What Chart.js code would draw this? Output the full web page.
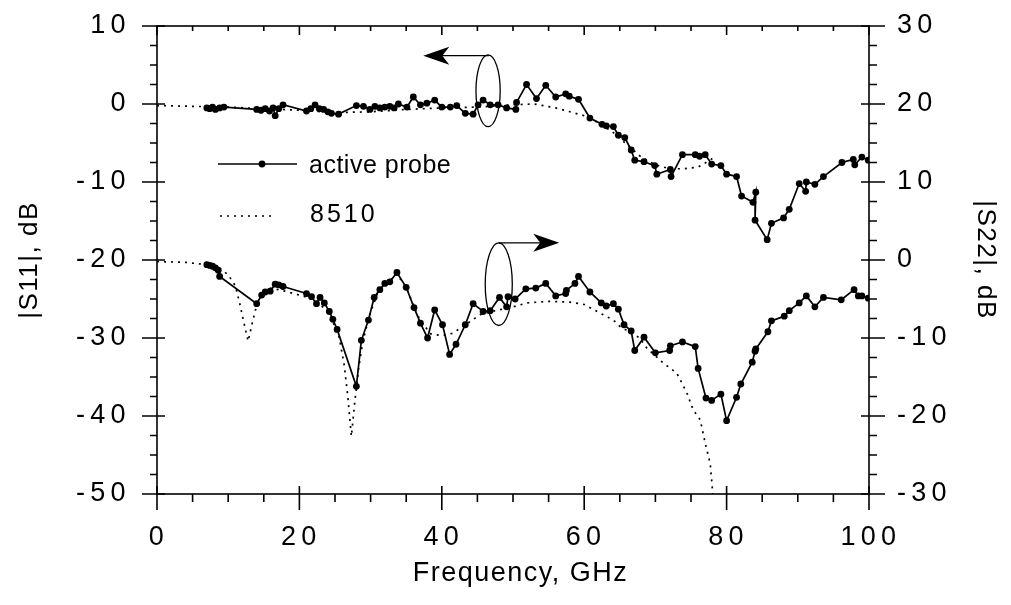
<!DOCTYPE html>
<html>
<head>
<meta charset="utf-8">
<script src="https://cdn.jsdelivr.net/npm/chart.js@4"></script>
<style>
  body { margin: 0; background: #fff; }
  canvas { display: block; }
</style>
</head>
<body>
<canvas id="myChart" width="1011" height="605"></canvas>
<script>
// |S11| measured with the active probe (left axis)
const s11ProbeFreq = [7.0, 7.4, 7.8, 8.2, 8.8, 9.4, 14.0, 14.6, 15.2, 15.8, 16.3, 16.6, 17.1, 17.7,
    21.0, 21.6, 22.2, 22.8, 23.4, 24.0, 24.5, 25.5, 28.0, 29.0, 29.9, 30.6, 31.3, 32.0, 32.7, 33.3,
    33.9, 35.1, 36.0, 37.0, 37.9, 39.0, 40.0, 41.2, 42.1, 43.3, 44.4, 45.1, 45.8, 46.8, 47.9, 49.1,
    50.4, 50.5, 51.9, 53.3, 54.6, 56.0, 57.4, 57.9, 59.2, 60.8, 62.5, 63.1, 64.1, 64.8, 65.7, 66.6,
    67.1, 68.4, 69.9, 70.2, 72.1, 72.2, 73.8, 75.6, 76.2, 77.0, 77.9, 79.2, 80.0, 81.4, 82.1, 83.7,
    84.1, 84.0, 85.7, 86.3, 88.0, 88.8, 90.2, 91.1, 91.2, 92.4, 93.6, 96.2, 97.8, 98.0, 99.0, 99.9];
const s11ProbeDb = [-0.5, -0.6, -0.4, -0.7, -0.5, -0.4, -0.7, -0.8, -0.6, -0.9, -0.5, -1.5, -0.6, -0.1,
    -0.9, -0.6, -0.1, -0.6, -0.7, -1.0, -1.2, -1.3, -0.2, -0.3, -0.7, -0.3, -0.5, -0.4, -0.3, -0.5,
    0.0, -0.4, 0.9, -0.1, 0.1, 0.5, -0.4, -0.4, -0.2, -1.2, -1.3, -0.1, 0.5, -0.1, -0.1, -0.5,
    -0.7, 0.2, 2.5, 0.7, 2.4, 0.9, 1.3, 1.0, 0.6, -1.8, -2.6, -2.8, -2.9, -4.0, -4.3, -5.9,
    -7.2, -7.4, -7.9, -9.0, -8.4, -9.3, -6.5, -6.5, -6.7, -6.5, -7.7, -7.9, -9.0, -9.3, -11.8, -12.6,
    -11.3, -14.9, -17.4, -15.3, -14.6, -13.5, -10.2, -11.2, -10.0, -10.3, -9.3, -7.5, -7.1, -7.8, -6.8, -7.2];

// |S22| measured with the active probe (right axis)
const s22ProbeFreq = [7.0, 7.4, 7.8, 8.2, 8.6, 8.8, 14.0, 14.7, 15.2, 15.9, 16.6, 17.1, 17.7,
    21.0, 21.7, 22.4, 22.9, 23.5, 24.2, 24.7, 25.3, 28.0, 28.7, 29.7, 30.5, 31.3, 32.0, 32.7, 33.7,
    35.0, 36.1, 37.0, 38.0, 39.0, 40.1, 41.1, 42.0, 43.3, 44.4, 45.8, 46.8, 48.1, 49.1, 49.3, 50.3,
    51.8, 53.2, 54.6, 56.0, 57.4, 57.5, 58.7, 59.2, 60.8, 62.4, 63.1, 64.1, 64.8, 65.6, 66.6, 67.1,
    68.4, 70.0, 72.0, 72.1, 73.8, 75.6, 76.0, 77.1, 77.9, 79.2, 80.0, 81.4, 82.0, 83.6, 84.0, 84.1,
    85.8, 86.3, 88.1, 88.8, 90.2, 91.2, 92.4, 93.6, 96.1, 97.9, 98.5, 99.0, 99.9];
const s22ProbeDb = [-0.6, -0.7, -0.8, -1.0, -1.3, -2.1, -5.6, -4.5, -4.1, -4.0, -3.1, -3.2, -3.4,
    -4.3, -4.7, -5.6, -4.8, -5.5, -6.6, -7.6, -8.9, -16.2, -10.3, -7.7, -4.8, -3.8, -3.0, -2.8, -1.6,
    -3.5, -6.1, -8.1, -10.0, -6.4, -8.3, -12.1, -10.8, -8.3, -5.6, -6.6, -6.5, -4.8, -6.0, -4.7, -5.0,
    -3.7, -3.6, -3.0, -4.6, -4.3, -3.9, -3.0, -2.1, -4.1, -5.5, -5.9, -5.6, -6.3, -8.3, -9.1, -11.6,
    -9.9, -11.9, -11.6, -11.0, -10.5, -11.1, -13.9, -17.7, -18.0, -17.2, -20.6, -17.6, -15.9, -13.1, -11.7, -11.4,
    -9.2, -7.8, -7.2, -6.5, -5.5, -4.6, -6.0, -4.8, -5.1, -3.8, -4.6, -4.6, -4.9];

// 8510 reference, |S11| (left axis)
const s11RefFreq = [0, 5, 10, 15, 20, 25, 30, 35, 40, 45, 50, 53, 56, 58, 60, 62, 64, 66, 68, 70, 72, 74, 76, 78];
const s11RefDb = [-0.2, -0.3, -0.4, -0.6, -0.8, -1.1, -1.0, -0.7, -0.5, -0.4, -0.1, 0.0, -0.5, -1.0, -1.5,
    -2.4, -3.6, -5.2, -6.8, -7.8, -8.3, -8.3, -8.1, -7.0];

// 8510 reference, |S22| (right axis)
const s22RefFreq = [0, 4, 7, 9, 10, 11, 11.6, 12.2, 12.8, 13.4, 14.0, 14.6, 16, 18, 20, 22, 24, 25.5, 26.3,
    26.8, 27.3, 27.8, 28.3, 28.9, 29.8, 31, 32.5, 33.7, 35.0, 36.1, 37.0, 38.5, 40, 41.5, 43, 45.4, 47,
    49.6, 52, 55, 58, 60, 62.2, 64.1, 65, 66.5, 67.8, 68.8, 71.1, 73.0, 74.4, 75.3, 76.3, 77.0, 77.7, 78.0, 78.2];
const s22RefDb = [-0.2, -0.3, -0.6, -1.2, -1.9, -3.3, -5.5, -8.0, -10.4, -8.0, -5.8, -4.4, -3.6, -4.0, -4.5,
    -5.0, -6.6, -9.5, -13.5, -17.5, -22.6, -18.0, -14.0, -10.5, -7.2, -4.2, -2.8, -1.8, -3.5, -6.0, -7.8,
    -9.5, -9.7, -9.4, -8.5, -7.0, -6.6, -6.1, -5.5, -5.3, -5.4, -5.7, -6.8, -7.7, -8.5, -9.3, -10.0, -11.3,
    -13.2, -14.5, -17.0, -19.2, -20.5, -23.5, -26.1, -29.3, -32.0];

// axis ranges and tick labels
const freqTicks = [0, 20, 40, 60, 80, 100];
const s11Ticks = [10, 0, -10, -20, -30, -40, -50];
const s22Ticks = [30, 20, 10, 0, -10, -20, -30];

const fontFamily = '"Liberation Sans", Arial, Helvetica, sans-serif';

function toPoints(xs, ys) {
    return xs.map((x, i) => ({ x: x, y: ys[i] }));
}

// tick labels in the original are spread out a bit
function spaced(v) {
    return String(v).split('').join('\u200A');
}

const frame = {
    id: 'frame',
    beforeDraw(chart) {
        chart.ctx.letterSpacing = '1.5px';
    },
    afterDraw(chart) {
        const ctx = chart.ctx;
        const a = chart.chartArea;
        const xs = chart.scales.x, ys = chart.scales.y, y2 = chart.scales.y2;
        ctx.save();
        ctx.strokeStyle = '#000';
        ctx.fillStyle = '#000';
        ctx.lineWidth = 1.6;
        ctx.strokeRect(a.left, a.top, a.right - a.left, a.bottom - a.top);

        ctx.beginPath();
        // bottom + top ticks
        for (let f = 0; f <= 100; f += 5) {
            const px = xs.getPixelForValue(f);
            const major = f % 20 === 0;
            ctx.moveTo(px, major ? a.bottom - 8 : a.bottom);
            ctx.lineTo(px, major ? a.bottom + 16 : a.bottom + 8);
            ctx.moveTo(px, a.top);
            ctx.lineTo(px, a.top + (major ? 9 : 5));
        }
        // left ticks
        for (let v = -50; v <= 10; v += 2.5) {
            const py = ys.getPixelForValue(v);
            const major = v % 10 === 0;
            ctx.moveTo(major ? a.left - 15 : a.left - 7, py);
            ctx.lineTo(major ? a.left + 8 : a.left, py);
        }
        // right ticks
        for (let v = -30; v <= 30; v += 2.5) {
            const py = y2.getPixelForValue(v);
            const major = v % 10 === 0;
            ctx.moveTo(major ? a.right - 8 : a.right, py);
            ctx.lineTo(major ? a.right + 16 : a.right + 8, py);
        }
        ctx.stroke();

        // ellipses + arrows
        ctx.lineWidth = 1.3;
        function ring(f, db, scale, rf, rdb) {
            const cx = xs.getPixelForValue(f);
            const cy = scale.getPixelForValue(db);
            const rx = Math.abs(xs.getPixelForValue(f + rf) - cx);
            const ry = Math.abs(scale.getPixelForValue(db + rdb) - cy);
            ctx.beginPath();
            ctx.ellipse(cx, cy, rx, ry, 0, 0, Math.PI * 2);
            ctx.stroke();
        }
        function arrow(f0, f1, db, scale) {
            const x0 = xs.getPixelForValue(f0);
            const x1 = xs.getPixelForValue(f1);
            const py = scale.getPixelForValue(db);
            const dir = x1 > x0 ? 1 : -1;
            ctx.beginPath();
            ctx.moveTo(x0, py);
            ctx.lineTo(x1 - dir * 15, py);
            ctx.stroke();
            ctx.beginPath();
            ctx.moveTo(x1, py);
            ctx.lineTo(x1 - dir * 26, py - 9);
            ctx.lineTo(x1 - dir * 19, py);
            ctx.lineTo(x1 - dir * 26, py + 9);
            ctx.closePath();
            ctx.fill();
        }
        ring(46.5, 1.7, ys, 1.7, 4.6);
        arrow(46.6, 37.4, 6.2, ys);
        ring(48.0, -23.1, ys, 1.9, 5.3);
        arrow(48.0, 56.5, -17.8, ys);

        // legend
        ctx.lineWidth = 1.7;
        ctx.beginPath();
        ctx.moveTo(218, 164);
        ctx.lineTo(297, 164);
        ctx.stroke();
        ctx.beginPath();
        ctx.arc(262, 164, 3.4, 0, Math.PI * 2);
        ctx.fill();
        ctx.setLineDash([2, 5]);
        ctx.beginPath();
        ctx.moveTo(220, 216);
        ctx.lineTo(272, 216);
        ctx.stroke();
        ctx.setLineDash([]);
        ctx.font = '25px ' + fontFamily;
        ctx.textBaseline = 'middle';
        ctx.textAlign = 'left';
        ctx.letterSpacing = '0.5px';
        ctx.fillText('active probe', 309, 166);
        ctx.letterSpacing = '3px';
        ctx.fillText('8510', 310, 215);
        ctx.restore();
    }
};

const probeStyle = {
    borderColor: '#000',
    borderWidth: 1.7,
    pointRadius: 3.4,
    pointBackgroundColor: '#000',
    pointBorderWidth: 0,
    tension: 0,
    fill: false
};
const refStyle = {
    borderColor: '#000',
    borderWidth: 1.7,
    borderDash: [2, 5],
    pointRadius: 0,
    tension: 0,
    fill: false
};

const tickFont = { family: fontFamily, size: 27 };
const titleFont = { family: fontFamily, size: 27 };

function fitY(width) {
    return (s) => {
        s.width = width;
        s.paddingTop = 0;
        s.paddingBottom = 0;
    };
}

var ctx = document.getElementById('myChart').getContext('2d');
var myChart = new Chart(ctx, {
    type: 'line',
    data: {
        datasets: [
            Object.assign({ label: 'S11 8510', data: toPoints(s11RefFreq, s11RefDb), yAxisID: 'y' }, refStyle),
            Object.assign({ label: 'S22 8510', data: toPoints(s22RefFreq, s22RefDb), yAxisID: 'y2' }, refStyle),
            Object.assign({ label: 'S11 active probe', data: toPoints(s11ProbeFreq, s11ProbeDb), yAxisID: 'y' }, probeStyle),
            Object.assign({ label: 'S22 active probe', data: toPoints(s22ProbeFreq, s22ProbeDb), yAxisID: 'y2' }, probeStyle)
        ]
    },
    options: {
        responsive: false,
        animation: false,
        devicePixelRatio: 1,
        layout: { padding: { top: 26 } },
        plugins: { legend: { display: false }, tooltip: { enabled: false } },
        scales: {
            x: {
                type: 'linear',
                position: 'bottom',
                min: 0,
                max: 100,
                afterFit: (s) => { s.height = 111; s.paddingLeft = 0; s.paddingRight = 0; },
                afterBuildTicks: (s) => { s.ticks = freqTicks.map(v => ({ value: v })); },
                grid: { display: false, drawTicks: false },
                border: { display: false },
                ticks: { color: '#000', font: tickFont, padding: 27, maxRotation: 0, callback: spaced },
                title: { display: true, text: '\u2002Frequency, GHz', color: '#000', font: titleFont, padding: { top: 0, bottom: 15 } }
            },
            y: {
                type: 'linear',
                position: 'left',
                min: -50,
                max: 10,
                afterFit: fitY(157),
                afterBuildTicks: (s) => { s.ticks = s11Ticks.map(v => ({ value: v })); },
                grid: { display: false, drawTicks: false },
                border: { display: false },
                ticks: { color: '#000', font: tickFont, padding: 30, callback: spaced },
                title: { display: true, text: '|S11|, dB', color: '#000', font: { family: fontFamily, size: 26 }, padding: { top: 14, bottom: 0 } }
            },
            y2: {
                type: 'linear',
                position: 'right',
                min: -30,
                max: 30,
                afterFit: fitY(142),
                afterBuildTicks: (s) => { s.ticks = s22Ticks.map(v => ({ value: v })); },
                grid: { display: false, drawTicks: false },
                border: { display: false },
                ticks: { color: '#000', font: tickFont, padding: 28, callback: spaced },
                title: { display: true, text: '|S22|, dB', color: '#000', font: { family: fontFamily, size: 26 }, padding: { top: 10, bottom: 0 } }
            }
        }
    },
    plugins: [frame]
});
</script>
</body>
</html>
